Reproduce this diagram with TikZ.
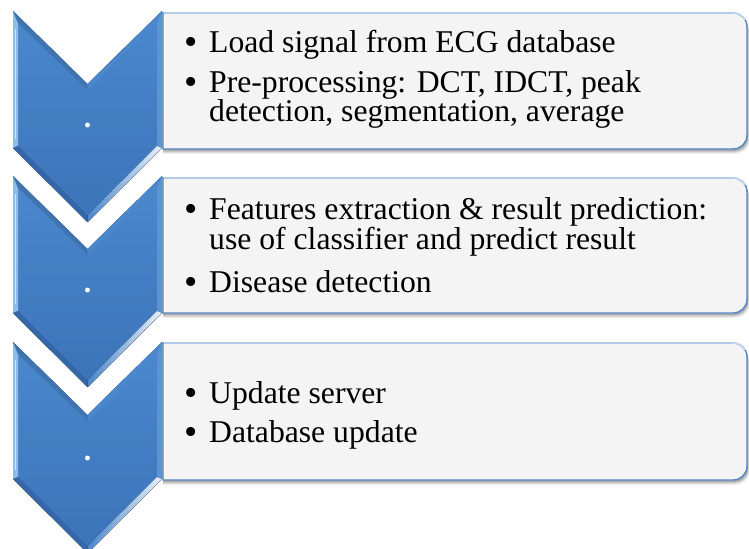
\documentclass[tikz,border=0pt]{standalone}
\usepackage{fontspec}
\setmainfont{Liberation Serif}
\definecolor{chevtop}{HTML}{4A88CD}
\definecolor{chevbot}{HTML}{3C73B9}
\definecolor{chevlight}{HTML}{8CBBEC}
\definecolor{chevdark}{HTML}{3466A8}
\definecolor{chevmid}{HTML}{4B87CC}
\definecolor{boxfill}{HTML}{F4F4F4}
\definecolor{boxline}{HTML}{5585C4}
\definecolor{boxtop}{HTML}{C8DBF2}
\tikzset{
  itemtext/.style={anchor=base west, inner sep=0pt, font=\fontsize{31.8}{31.8}\selectfont, text=black},
  bul/.style={anchor=base, inner sep=0pt, font=\fontsize{38}{38}\selectfont, text=black},
  cdot/.style={inner sep=0pt, font=\bfseries\fontsize{30}{30}\selectfont, text=white},
  boxshape/.style={fill=boxfill, draw=boxline, line width=1.4bp},
}
\begin{document}
\begin{tikzpicture}[x=1bp,y=-1bp]
\useasboundingbox (0,0) rectangle (749,549);
% boxes
\foreach \a/\b in {13/149,178/313,343/480}{
  \foreach \s/\o in {5/0.06,4/0.08,3/0.10,2/0.12}{
    \fill[black, opacity=\o] (163,\a+\s) -- (733,\a+\s) .. controls (741+\s*0.5,\a+\s) and (747+\s*0.5,\a+6+\s) .. (747+\s*0.5,\a+14+\s) -- (747+\s*0.5,\b-14+\s) .. controls (747+\s*0.5,\b-6+\s) and (741+\s*0.5,\b+\s) .. (733,\b+\s) -- (163,\b+\s) -- cycle;
  }
  \path[boxshape] (163,\a) -- (733,\a) .. controls (741,\a) and (747,\a+6) .. (747,\a+14) -- (747,\b-14) .. controls (747,\b-6) and (741,\b) .. (733,\b) -- (163,\b) -- cycle;
  \draw[boxtop, line width=1.4bp] (164,\a) -- (733,\a) .. controls (739,\a) and (743,\a+3) .. (745,\a+7);
}
% chevrons
\foreach \t in {11,176,342}{
  \fill[top color=chevtop, bottom color=chevbot] (13,\t) -- (87.5,\t+73) -- (162,\t) -- (162,\t+137) -- (87.5,\t+211) -- (13,\t+137) -- cycle;
  \fill[chevlight] (13,\t) -- (18,\t+12) -- (18,\t+135) -- (13,\t+137) -- cycle;
  \draw[white, opacity=0.6, line width=1.2bp] (15.5,\t+18) -- (15.5,\t+128);
  \fill[chevtop!85!black] (13,\t) -- (87.5,\t+73) -- (87.5,\t+79) -- (18,\t+12) -- cycle;
  \fill[chevmid] (162,\t) -- (87.5,\t+73) -- (87.5,\t+79) -- (157,\t+12) -- cycle;
  \fill[chevmid!90!white] (162,\t) -- (162,\t+137) -- (157,\t+135) -- (157,\t+12) -- cycle;
  \fill[chevdark] (13,\t+137) -- (87.5,\t+211) -- (87.5,\t+204) -- (18,\t+135) -- cycle;
  \fill[left color=chevmid, right color=white!80!chevlight] (162,\t+137) -- (87.5,\t+211) -- (87.5,\t+204) -- (157,\t+135) -- cycle;
}
\node[cdot] (d1) at (87.5,126) {.};
\node[cdot] (d2) at (87.5,291) {.};
\node[cdot] (d3) at (87.5,458) {.};
% texts box 1
\node[bul] (u11) at (191,55) {•};
\node[itemtext] (t11) at (209,53) {Load signal from ECG database};
\node[bul] (u12) at (191,95) {•};
\node[itemtext] (t12) at (209,93) {Pre-processing: DCT, IDCT, peak};
\node[itemtext] (t13) at (209,122) {detection, segmentation, average};
% texts box 2
\node[bul] (u21) at (191,222) {•};
\node[itemtext] (t21) at (209,220) {Features extraction \& result prediction:};
\node[itemtext] (t22) at (209,250) {use of classifier and predict result};
\node[bul] (u23) at (191,295) {•};
\node[itemtext] (t23) at (209,293) {Disease detection};
% texts box 3
\node[bul] (u31) at (191,405) {•};
\node[itemtext] (t31) at (209,403) {Update server};
\node[bul] (u32) at (191,444) {•};
\node[itemtext] (t32) at (209,442) {Database update};
\end{tikzpicture}
\end{document}
